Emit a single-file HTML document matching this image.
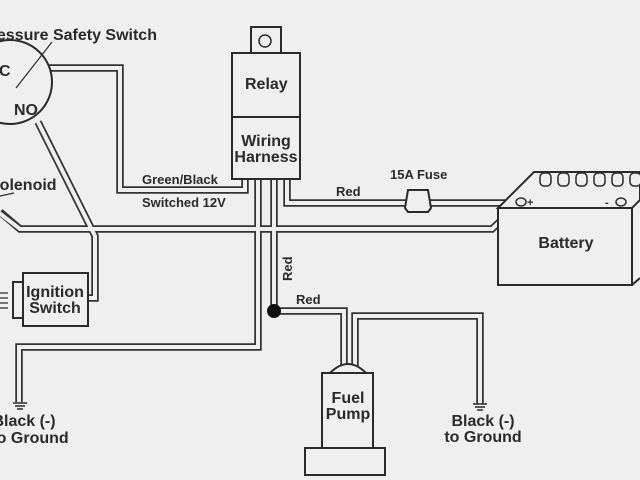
<!DOCTYPE html>
<html><head><style>
html,body{margin:0;padding:0;background:#efefef;}
svg{display:block;}
text{font-family:"Liberation Sans",sans-serif;font-weight:bold;fill:#2a2a2a;}
</style></head><body>
<svg width="640" height="480" viewBox="0 0 640 480" xmlns="http://www.w3.org/2000/svg">
<rect width="640" height="480" fill="#efefef"/>
<g fill="none" stroke-linejoin="miter" stroke-linecap="butt">
<g stroke="#333" stroke-width="7.5">
<path d="M48 68 H120 V190 H245 V178"/>
<path d="M38 122 L95 236 V298 H88"/>
<path d="M0 212 L20 229 H492 L520 203"/>
<path d="M287 178 V203 H520"/>
<path d="M258 178 V347 H19 V402"/>
<path d="M274 178 V311 H344 V366"/>
<path d="M355 366 V316 H480 V404"/>
</g>
<g stroke="#efefef" stroke-width="4">
<path d="M46 68 H120 V190 H245 V176"/>
<path d="M38 122 L95 236 V298 H86"/>
<path d="M-2 212 L20 229 H492 L520 203"/>
<path d="M287 176 V203 H520"/>
<path d="M258 176 V347 H19 V404"/>
<path d="M274 176 V311 H344 V368"/>
<path d="M355 368 V316 H480 V406"/>
</g>
</g>
<g stroke="#2a2a2a" stroke-width="2" fill="#efefef">
<circle cx="10" cy="82" r="42"/>
<line x1="52" y1="42" x2="16" y2="88" stroke-width="1.2"/>
<line x1="0" y1="196" x2="14" y2="193" stroke-width="1.2"/>
<rect x="251" y="27" width="30" height="26"/>
<circle cx="265" cy="41" r="6" stroke-width="1.5"/>
<rect x="232" y="53" width="68" height="126"/>
<line x1="232" y1="117" x2="300" y2="117"/>
<rect x="13" y="282" width="10" height="36"/>
<rect x="23" y="273" width="65" height="53"/>
<path d="M0 293 H8 M0 298 H8 M0 303 H8 M0 308 H8" stroke-width="1.2"/>
<path d="M408 190 H428 L431 208 L428 212 H408 L405 208 Z"/>
<path d="M498 208 L534 172 H640 V200 L632 208 Z"/>
<rect x="498" y="208" width="134" height="77"/>
<path d="M632 285 L640 278"/>
<path d="M330 373 Q348 355 366 373 Z"/>
<rect x="322" y="373" width="51" height="75"/>
<rect x="305" y="448" width="80" height="27"/>
</g>
<g stroke="#2a2a2a" stroke-width="1.5" fill="#efefef">
<ellipse cx="521" cy="202" rx="5" ry="4"/>
<ellipse cx="621" cy="202" rx="5" ry="4"/>
<rect x="540" y="173" width="11" height="13" rx="4"/>
<rect x="558" y="173" width="11" height="13" rx="4"/>
<rect x="576" y="173" width="11" height="13" rx="4"/>
<rect x="594" y="173" width="11" height="13" rx="4"/>
<rect x="612" y="173" width="11" height="13" rx="4"/>
<rect x="630" y="173" width="11" height="13" rx="4"/>
<path d="M13 403 H27 M15 406 H25 M17 409 H23"/>
<path d="M473 404 H487 M475 407 H485 M477 410 H483"/>
</g>
<circle cx="274" cy="311" r="7" fill="#111"/>
<g font-size="16">
<text x="-20" y="40">Pressure Safety Switch</text>
<text x="-1" y="76">C</text>
<text x="14" y="115">NO</text>
<text x="-11" y="190">Solenoid</text>
<text x="245" y="89">Relay</text>
<text x="266" y="146" text-anchor="middle">Wiring</text>
<text x="266" y="162" text-anchor="middle">Harness</text>
<text x="55" y="297" text-anchor="middle">Ignition</text>
<text x="55" y="313" text-anchor="middle">Switch</text>
<text x="348" y="403" text-anchor="middle">Fuel</text>
<text x="348" y="419" text-anchor="middle">Pump</text>
<text x="566" y="248" text-anchor="middle">Battery</text>
<text x="24" y="426" text-anchor="middle">Black (-)</text>
<text x="30" y="443" text-anchor="middle">to Ground</text>
<text x="483" y="426" text-anchor="middle">Black (-)</text>
<text x="483" y="442" text-anchor="middle">to Ground</text>
</g>
<g font-size="13">
<text x="142" y="184">Green/Black</text>
<text x="142" y="207">Switched 12V</text>
<text x="336" y="196">Red</text>
<text x="296" y="304">Red</text>
<text x="390" y="179">15A Fuse</text>
<text transform="translate(292,281) rotate(-90)">Red</text>
<text x="527" y="206" font-size="11">+</text>
<text x="605" y="206" font-size="11">-</text>
</g>
</svg>
</body></html>
